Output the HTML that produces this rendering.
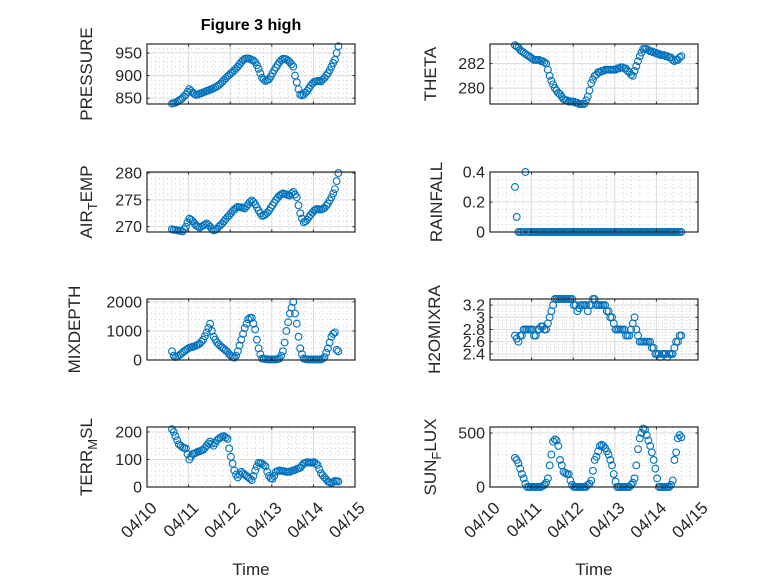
<!DOCTYPE html>
<html><head><meta charset="utf-8"><style>
body{margin:0;background:#fff}
svg{display:block;font-family:"Liberation Sans","DejaVu Sans",sans-serif}
</style></head><body>
<svg id="fig" width="778" height="583" viewBox="0 0 778 583">
<rect width="778" height="583" fill="#fff"/>
<text x="251" y="30" text-anchor="middle" font-size="16" font-weight="bold" fill="#000">Figure 3 high</text>
</svg>
<script>
const dayStart = 0.6, dayStep = 1/24;
const xTickLabels = ["04/10","04/11","04/12","04/13","04/14","04/15"];
const pressure = [838,839,840,842,845,847,850,854,858,864,870,866,862,859,857,858,860,861,863,864,866,867,869,870,872,874,876,879,882,886,890,894,898,901,905,908,912,916,920,925,930,934,937,938,938,937,935,933,930,923,915,905,895,891,888,890,892,898,905,912,918,924,930,934,937,937,936,933,930,925,920,900,885,870,858,856,858,862,866,872,878,882,886,887,888,888,887,891,895,900,905,912,920,928,935,950,965];
const airTemp = [269.5,269.4,269.4,269.3,269.3,269.2,269.1,269.5,270,270.8,271.5,271.3,271,270.6,270.2,270,269.8,270,270.2,270.4,270.6,270.3,270,269.6,269.3,269.4,269.6,270,270.3,270.6,271,271.4,271.8,272.1,272.5,272.9,273.2,273.5,273.7,273.6,273.6,273.5,273.4,273.8,274.2,274.6,274.9,274.6,274.2,273.6,273,272.5,272,272.1,272.3,272.6,273,273.5,274,274.5,275,275.4,275.8,276,276.2,276.1,276,275.9,275.8,276.2,276.5,276,275.5,274,272.5,271.5,270.8,271,271.3,271.8,272.2,272.6,273,273.2,273.3,273.2,273.2,273.3,273.5,273.9,274.3,274.9,275.5,276.2,277,278.5,280];
const mixDepth = [300,150,100,120,150,200,250,300,350,380,420,440,450,470,500,530,560,630,700,820,950,1100,1250,1000,800,700,600,540,480,430,380,330,280,200,150,100,80,150,300,500,700,900,1100,1250,1400,1450,1450,1250,1050,700,400,200,50,40,30,25,20,20,20,20,20,30,50,150,300,600,1000,1300,1600,1800,2000,1600,1250,800,400,200,50,30,20,20,20,20,20,20,20,20,20,50,100,250,400,600,800,900,950,350,300];
const terrMsl = [210,200,185,170,155,150,145,142,140,120,100,110,120,122,125,128,130,133,135,142,150,158,165,158,150,160,170,175,180,183,185,180,175,140,110,85,60,45,35,45,55,50,45,40,35,30,25,40,60,75,88,87,85,80,75,55,40,32,30,40,55,58,60,59,58,57,55,55,55,58,60,62,65,68,70,78,85,88,90,89,88,89,90,85,80,65,50,42,35,28,20,17,15,18,22,21,20];
const theta = [283.5,283.4,283.3,283.1,283,282.9,282.8,282.7,282.6,282.5,282.4,282.3,282.3,282.3,282.3,282.2,282.2,282.1,282,281.5,281,280.6,280.3,280,279.8,279.6,279.5,279.3,279.1,279,279,278.9,278.9,278.9,278.9,278.8,278.8,278.7,278.7,278.7,278.7,279,279.3,279.8,280.4,280.7,281,281.1,281.3,281.3,281.4,281.4,281.5,281.5,281.5,281.5,281.5,281.5,281.5,281.6,281.6,281.7,281.7,281.6,281.6,281.4,281.3,281.1,281,281.4,281.8,282.2,282.6,282.9,283.2,283.2,283.2,283.1,283,283,282.9,282.9,282.8,282.8,282.7,282.7,282.7,282.6,282.6,282.5,282.5,282.3,282.2,282.3,282.3,282.5,282.6];
const rainfall = [0.3,0.1,0,0,0,0,0.4,0,0,0,0,0,0,0,0,0,0,0,0,0,0,0,0,0,0,0,0,0,0,0,0,0,0,0,0,0,0,0,0,0,0,0,0,0,0,0,0,0,0,0,0,0,0,0,0,0,0,0,0,0,0,0,0,0,0,0,0,0,0,0,0,0,0,0,0,0,0,0,0,0,0,0,0,0,0,0,0,0,0,0,0,0,0,0,0,0,0];
const h2oMix = [2.7,2.65,2.6,2.7,2.7,2.8,2.8,2.8,2.8,2.8,2.8,2.7,2.7,2.8,2.8,2.85,2.85,2.8,2.8,2.9,3.0,3.1,3.2,3.3,3.3,3.3,3.3,3.3,3.3,3.3,3.3,3.3,3.3,3.3,3.2,3.2,3.1,3.15,3.2,3.2,3.2,3.2,3.1,3.2,3.2,3.3,3.3,3.2,3.2,3.2,3.2,3.2,3.2,3.1,3.1,3.0,3.0,2.9,2.8,2.8,2.8,2.8,2.8,2.8,2.7,2.7,2.7,2.8,2.9,3.0,2.8,2.7,2.6,2.6,2.6,2.6,2.6,2.6,2.6,2.5,2.5,2.4,2.4,2.4,2.35,2.4,2.4,2.4,2.35,2.4,2.4,2.4,2.5,2.6,2.6,2.7,2.7];
const sunFlux = [270,250,220,170,120,80,30,0,0,0,0,0,0,0,0,0,10,20,40,80,200,300,420,440,430,380,250,200,140,130,120,120,60,20,0,0,0,0,0,0,0,0,20,30,60,150,250,280,330,380,390,380,360,330,300,250,200,120,50,0,0,0,0,0,0,0,0,20,40,80,200,350,450,500,540,530,480,430,380,320,250,170,80,0,0,0,0,0,0,0,20,60,250,320,450,480,460];
const pressureTicks = [850,900,950];
const airTempTicks = [270,275,280];
const mixTicks = [0,1000,2000];
const terrTicks = [0,100,200];
const thetaTicks = [280,282];
const rainTicks = [0,0.2,0.4];
const rainTickLabels = ["0","0.2","0.4"];
const h2oTicks = [2.4,2.6,2.8,3,3.2];
const sunTicks = [0,500];

const NS="http://www.w3.org/2000/svg";
const svg=document.getElementById('fig');
function mk(tag,attrs,parent){const e=document.createElementNS(NS,tag);for(const k in attrs)e.setAttribute(k,attrs[k]);(parent||svg).appendChild(e);return e;}

const panels=[
 {name:'pressure',x0:147,x1:355,y0:44,y1:104,ymin:837,ymax:970,data:pressure,ticks:pressureTicks,minor:10,label:['PRESSURE'],lx:92,xt:false},
 {name:'air-temp',x0:147,x1:355,y0:172,y1:232,ymin:269,ymax:280.2,data:airTemp,ticks:airTempTicks,minor:1,label:['AIR','T','EMP'],lx:92,xt:false},
 {name:'mixdepth',x0:147,x1:355,y0:299,y1:360,ymin:0,ymax:2100,data:mixDepth,ticks:mixTicks,minor:200,label:['MIXDEPTH'],lx:80,xt:false},
 {name:'terr-msl',x0:147,x1:355,y0:427,y1:487,ymin:0,ymax:218,data:terrMsl,ticks:terrTicks,minor:20,label:['TERR','M','SL'],lx:92,xt:true},
 {name:'theta',x0:490,x1:698,y0:44,y1:104,ymin:278.7,ymax:283.6,data:theta,ticks:thetaTicks,minor:0.5,label:['THETA'],lx:436,xt:false},
 {name:'rainfall',x0:490,x1:698,y0:172,y1:232,ymin:0,ymax:0.4,data:rainfall,ticks:rainTicks,tl:rainTickLabels,minor:0.05,label:['RAINFALL'],lx:442,xt:false},
 {name:'h2omixra',x0:490,x1:698,y0:299,y1:360,ymin:2.3,ymax:3.3,data:h2oMix,ticks:h2oTicks,minor:0.05,label:['H2OMIXRA'],lx:440,xt:false},
 {name:'sun-flux',x0:490,x1:698,y0:427,y1:487,ymin:0,ymax:555,data:sunFlux,ticks:sunTicks,minor:100,label:['SUN','F','LUX'],lx:436,xt:true},
];

panels.forEach(p=>{
 const g=mk('g',{});
 
 
 const X=d=>p.x0+(p.x1-p.x0)*d/5;
 const Y=v=>p.y1-(p.y1-p.y0)*(v-p.ymin)/(p.ymax-p.ymin);
 mk('rect',{x:p.x0,y:p.y0,width:p.x1-p.x0,height:p.y1-p.y0,fill:'#fff'},g);
 for(let d=0;d<=5;d+=0.2){const x=X(d);mk('line',{x1:x,x2:x,y1:p.y0,y2:p.y1,stroke:'#c8c8c8','stroke-width':0.8,'stroke-dasharray':'1,3'},g);}
 const m0=Math.ceil(p.ymin/p.minor)*p.minor;
 for(let v=m0;v<=p.ymax+1e-9;v+=p.minor){const y=Y(v);mk('line',{x1:p.x0,x2:p.x1,y1:y,y2:y,stroke:'#c8c8c8','stroke-width':0.8,'stroke-dasharray':'1,3'},g);}
 for(let d=1;d<5;d++){const x=X(d);mk('line',{x1:x,x2:x,y1:p.y0,y2:p.y1,stroke:'#dcdcdc','stroke-width':1},g);}
 p.ticks.forEach(v=>{const y=Y(v);mk('line',{x1:p.x0,x2:p.x1,y1:y,y2:y,stroke:'#dcdcdc','stroke-width':1},g);});
 p.data.forEach((v,i)=>{
  const c=mk('circle',{cx:X(dayStart+i*dayStep),cy:Y(v),r:3.4,fill:'none',stroke:'#0072BD','stroke-width':1.1},g);
  
  
 });
 mk('rect',{x:p.x0,y:p.y0,width:p.x1-p.x0,height:p.y1-p.y0,fill:'none',stroke:'#262626','stroke-width':1.2},g);
 for(let d=0;d<=5;d++){const x=X(d);
  mk('line',{x1:x,x2:x,y1:p.y1,y2:p.y1-2.5,stroke:'#262626'},g);
  mk('line',{x1:x,x2:x,y1:p.y0,y2:p.y0+2.5,stroke:'#262626'},g);
  if(p.xt){const tx=x+11,ty=p.y1+22;
   const t=mk('text',{x:tx,y:ty,'text-anchor':'end','font-size':17,fill:'#262626',transform:`rotate(-45 ${tx} ${ty})`},g);t.textContent=xTickLabels[d];
   
   }
 }
 p.ticks.forEach((v,i)=>{const y=Y(v);
  mk('line',{x1:p.x0,x2:p.x0+2.5,y1:y,y2:y,stroke:'#262626'},g);
  mk('line',{x1:p.x1,x2:p.x1-2.5,y1:y,y2:y,stroke:'#262626'},g);
  const t=mk('text',{x:p.x0-5,y:y+5.5,'text-anchor':'end','font-size':16,fill:'#262626'},g);
  t.textContent=p.tl?p.tl[i]:String(v);
  
  
 });
 const cy=(p.y0+p.y1)/2;
 const t=mk('text',{x:p.lx,y:cy,'text-anchor':'middle','font-size':17,fill:'#262626',transform:`rotate(-90 ${p.lx} ${cy})`},g);
 
 
 if(p.label.length===1){t.textContent=p.label[0];}
 else{
  const a=mk('tspan',{},t);a.textContent=p.label[0];
  const b=mk('tspan',{dy:5,'font-size':13},t);b.textContent=p.label[1];
  const c=mk('tspan',{dy:-5},t);c.textContent=p.label[2];
 }
 if(p.xt){
  const tt=mk('text',{x:(p.x0+p.x1)/2,y:575,'text-anchor':'middle','font-size':17,fill:'#262626'},g);
  tt.textContent='Time';
  
  
 }
});
</script>
</body></html>
